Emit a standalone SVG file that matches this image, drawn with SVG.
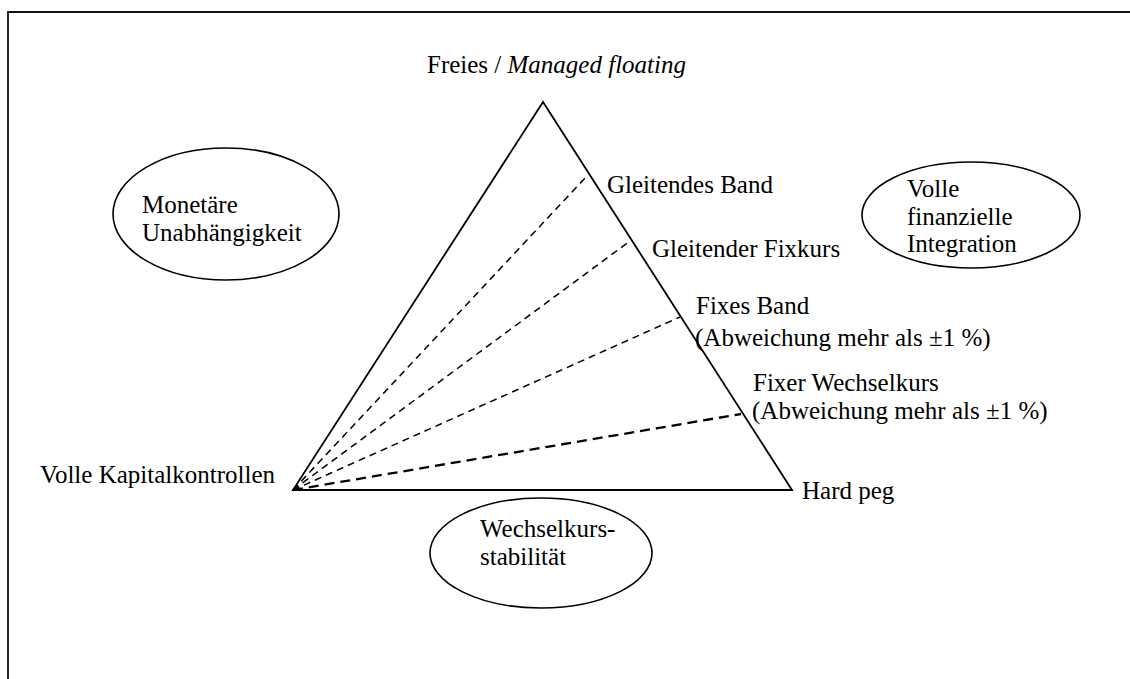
<svg xmlns="http://www.w3.org/2000/svg" width="1130" height="679" viewBox="0 0 1130 679">
<style>
text{font-family:"Liberation Serif","Times New Roman",serif;font-size:25px;fill:#000}
.solid{fill:none;stroke:#000;stroke-width:1.8}
.dash{fill:none;stroke:#000;stroke-width:1.5;stroke-dasharray:7 5}
.dash2{fill:none;stroke:#000;stroke-width:2.3;stroke-dasharray:10 6}
.ell{fill:none;stroke:#000;stroke-width:1.6}
</style>
<rect width="1130" height="679" fill="#fff"/>
<path d="M8 690 V12 H1140" fill="none" stroke="#111" stroke-width="1.8"/>
<g id="triangle">
<polygon class="solid" points="543,102 293,490 792,490"/>
</g>
<g id="connectors">
<line class="dash" x1="293" y1="490" x2="586" y2="177"/>
<line class="dash" x1="293" y1="490" x2="630" y2="241"/>
<line class="dash" x1="293" y1="490" x2="680" y2="317"/>
<line class="dash2" x1="293" y1="490" x2="741" y2="414"/>
</g>
<g id="node-top"><text x="427" y="73">Freies / <tspan font-style="italic">Managed floating</tspan></text></g>
<g id="node-gleitendes-band"><text x="607" y="193">Gleitendes Band</text></g>
<g id="node-gleitender-fixkurs"><text x="652" y="257">Gleitender Fixkurs</text></g>
<g id="node-fixes-band"><text x="696" y="314">Fixes Band</text><text x="695" y="346">(Abweichung mehr als ±1 %)</text></g>
<g id="node-fixer-wechselkurs"><text x="753" y="391">Fixer Wechselkurs</text><text x="752" y="419">(Abweichung mehr als ±1 %)</text></g>
<g id="node-hard-peg"><text x="802" y="499">Hard peg</text></g>
<g id="node-kapitalkontrollen"><text x="275" y="483" text-anchor="end">Volle Kapitalkontrollen</text></g>
<g id="node-monetaere">
<ellipse class="ell" cx="226" cy="214" rx="113" ry="66"/>
<text x="142" y="213">Monetäre</text><text x="142" y="241">Unabhängigkeit</text>
</g>
<g id="node-integration">
<ellipse class="ell" cx="971" cy="215" rx="109" ry="53"/>
<text x="907" y="197">Volle</text><text x="907" y="225">finanzielle</text><text x="907" y="252">Integration</text>
</g>
<g id="node-stabilitaet">
<ellipse class="ell" cx="541" cy="553" rx="111" ry="55"/>
<text x="480" y="537">Wechselkurs-</text><text x="480" y="565">stabilität</text>
</g>
</svg>
